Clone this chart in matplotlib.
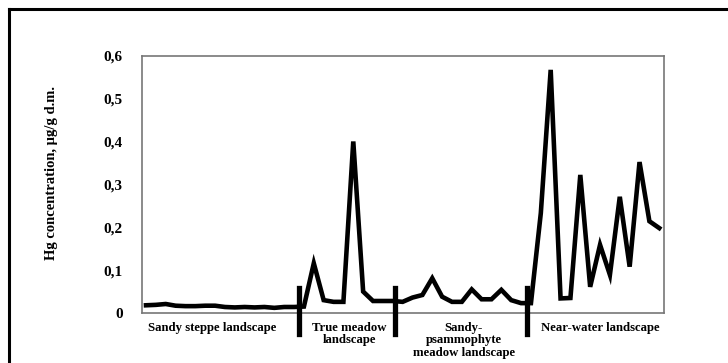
import matplotlib
matplotlib.use("Agg")
import matplotlib.pyplot as plt
from matplotlib.lines import Line2D

# Data
hg = [0.018, 0.019, 0.021, 0.017, 0.016, 0.016, 0.017, 0.017, 0.014, 0.013,
      0.014, 0.013, 0.014, 0.012, 0.014, 0.014,
      0.015, 0.116, 0.030, 0.026, 0.026, 0.400, 0.050, 0.028, 0.028, 0.028,
      0.026, 0.036, 0.042, 0.081, 0.038, 0.026, 0.026, 0.055, 0.032, 0.032,
      0.054, 0.030, 0.023, 0.023,
      0.233, 0.567, 0.034, 0.035, 0.322, 0.061, 0.159, 0.089, 0.271, 0.108,
      0.352, 0.214, 0.198]
x = list(range(len(hg)))
separators = [15.5, 25.2, 38.6]
zone_labels = ["Sandy steppe landscape", "True meadow\nlandscape",
               "Sandy-\npsammophyte\nmeadow landscape", "Near-water landscape"]
zone_centers = [6.7, 20.6, 32.2, 46.0]
yticks = [0, 0.1, 0.2, 0.3, 0.4, 0.5, 0.6]
ytick_labels = ["0", "0,1", "0,2", "0,3", "0,4", "0,5", "0,6"]

serif = ["Liberation Serif", "DejaVu Serif"]

W, H = 728, 363
fig = plt.figure(figsize=(W / 100, H / 100), dpi=100)
ax = fig.add_axes([142 / W, 1 - 313 / H, (664 - 142) / W, (313 - 55.7) / H])

ax.plot(x, hg, color="black", lw=3.3, solid_joinstyle="miter", clip_on=False, zorder=3)
ax.set_xlim(-0.405, 52.48)
ax.set_ylim(0, 0.6)

for s in separators:
    ax.plot([s, s], [0.058, -0.048], color="black", lw=3.8, clip_on=False, zorder=4)

for sp in ax.spines.values():
    sp.set_color("#777777")
    sp.set_linewidth(1.2)

ax.set_xticks([])
ax.set_yticks(yticks)
ax.set_yticklabels(ytick_labels, fontfamily=serif, fontweight="bold", fontsize=11)
ax.tick_params(axis="y", length=0, pad=14)

ax.set_ylabel("Hg concentration, µg/g d.m.", fontfamily=serif, fontweight="bold",
              fontsize=10.5)
ax.yaxis.set_label_coords(-0.16, 0.544)

for c, lab in zip(zone_centers, zone_labels):
    ax.text(c, -0.02, lab, ha="center", va="top", fontfamily=serif,
            fontweight="bold", fontsize=9.2, linespacing=1.1)

# outer frame (top and left edges visible)
fig.add_artist(Line2D([9 / W, 9 / W], [0, 1 - 9 / H], transform=fig.transFigure,
                      color="black", lw=2.2))
fig.add_artist(Line2D([9 / W, 1], [1 - 9 / H, 1 - 9 / H], transform=fig.transFigure,
                      color="black", lw=2.2))

fig.savefig("out.png", dpi=100)
